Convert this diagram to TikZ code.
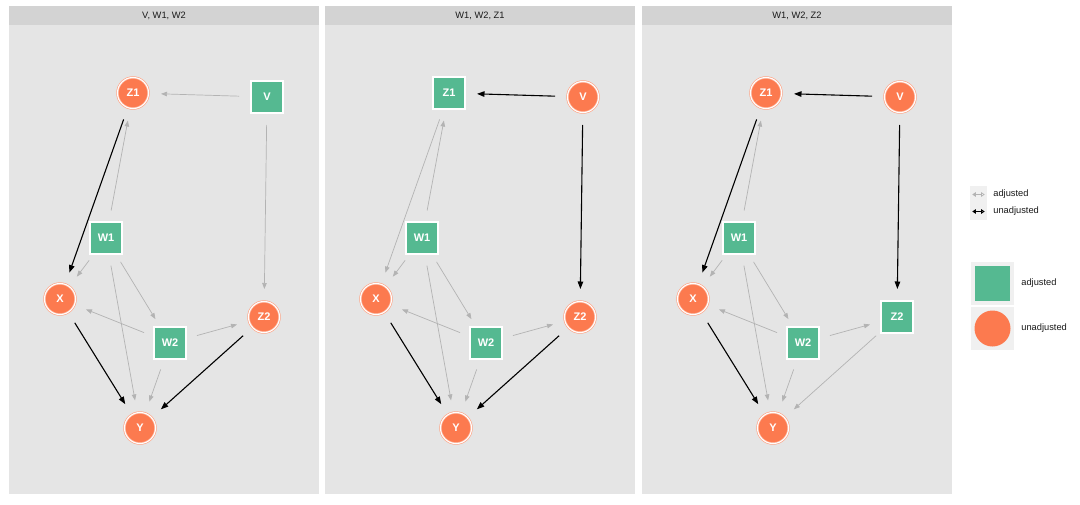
\documentclass[tikz,border=0pt]{standalone}
\usepackage{fontspec}
\setmainfont{Liberation Sans}
\usetikzlibrary{positioning, arrows.meta}

\definecolor{adjgreen}{HTML}{55B991}
\definecolor{unadjorange}{HTML}{FC7A4F}
\definecolor{panelgrey}{HTML}{E5E5E5}
\definecolor{stripgrey}{HTML}{D3D3D3}
\definecolor{edgegrey}{HTML}{B3B3B3}
\definecolor{keygrey}{HTML}{F0F0F0}

\begin{document}
\begin{tikzpicture}[
    % 1 unit = 1 pixel of the 1080x504 picture
    x=1pt, y=-1pt,
    adjusted/.style={
        rectangle,
        minimum size=32pt,
        inner sep=0pt,
        fill=adjgreen,
        draw=adjgreen!65!white,
        double=white,
        double distance=1.1pt,
        line width=0.7pt,
        text=white,
        font=\fontsize{11}{13}\selectfont\bfseries
    },
    unadjusted/.style={
        circle,
        minimum size=31pt,
        inner sep=0pt,
        fill=unadjorange,
        draw=unadjorange!65!white,
        double=white,
        double distance=1.1pt,
        line width=0.7pt,
        text=white,
        font=\fontsize{11}{13}\selectfont\bfseries
    },
    adj edge/.style={
        -{Triangle[length=6pt, width=4.5pt]}, % small grey head
        draw=edgegrey,
        line width=0.7pt,
        shorten >=28pt,
        shorten <=28pt
    },
    unadj edge/.style={
        -{Triangle[length=7.5pt, width=5.5pt]},
        draw=black,
        line width=1.1pt,
        shorten >=28pt,
        shorten <=28pt
    },
    strip text/.style={
        font=\fontsize{9.3}{11}\selectfont,
        text=black!90
    },
    legend text/.style={
        inner sep=0pt,
        font=\fontsize{9.3}{11}\selectfont,
        text=black!90
    }
]

    \useasboundingbox[fill=white] (0,0) rectangle (1080,504);

    % --- 1. Panel "V, W1, W2" ---
    \begin{scope}[xshift=9pt]
        \fill[panelgrey] (0,25) rectangle (310,494);
        \fill[stripgrey] (0,6) rectangle (310,25);
        \node[strip text] (aTitle) at (155,15.5) {V, W1, W2};

        \node[unadjusted] (aZ1) at (124,93)  {Z1};
        \node[adjusted]   (aV)  at (258,97)  {V};
        \node[adjusted]   (aW1) at (97,238)  {W1};
        \node[unadjusted] (aX)  at (51,299)  {X};
        \node[unadjusted] (aZ2) at (255,317) {Z2};
        \node[adjusted]   (aW2) at (161,343) {W2};
        \node[unadjusted] (aY)  at (131,428) {Y};

        \draw[adj edge] (aV.center) -- (aZ1.center);
        \draw[adj edge] (aV.center) -- (aZ2.center);
        \draw[adj edge] (aW1.center) -- (aZ1.center);
        \draw[adj edge] (aW1.center) -- (aX.center);
        \draw[adj edge] (aW1.center) -- (aY.center);
        \draw[adj edge] (aW1.center) -- (aW2.center);
        \draw[adj edge] (aW2.center) -- (aX.center);
        \draw[adj edge] (aW2.center) -- (aZ2.center);
        \draw[adj edge] (aW2.center) -- (aY.center);
        \draw[unadj edge] (aZ1.center) -- (aX.center);
        \draw[unadj edge] (aX.center) -- (aY.center);
        \draw[unadj edge] (aZ2.center) -- (aY.center);
    \end{scope}

    % --- 2. Panel "W1, W2, Z1" ---
    \begin{scope}[xshift=325pt]
        \fill[panelgrey] (0,25) rectangle (310,494);
        \fill[stripgrey] (0,6) rectangle (310,25);
        \node[strip text] (bTitle) at (155,15.5) {W1, W2, Z1};

        \node[adjusted]   (bZ1) at (124,93)  {Z1};
        \node[unadjusted] (bV)  at (258,97)  {V};
        \node[adjusted]   (bW1) at (97,238)  {W1};
        \node[unadjusted] (bX)  at (51,299)  {X};
        \node[unadjusted] (bZ2) at (255,317) {Z2};
        \node[adjusted]   (bW2) at (161,343) {W2};
        \node[unadjusted] (bY)  at (131,428) {Y};

        \draw[adj edge] (bZ1.center) -- (bX.center);
        \draw[adj edge] (bW1.center) -- (bZ1.center);
        \draw[adj edge] (bW1.center) -- (bX.center);
        \draw[adj edge] (bW1.center) -- (bY.center);
        \draw[adj edge] (bW1.center) -- (bW2.center);
        \draw[adj edge] (bW2.center) -- (bX.center);
        \draw[adj edge] (bW2.center) -- (bZ2.center);
        \draw[adj edge] (bW2.center) -- (bY.center);
        \draw[unadj edge] (bV.center) -- (bZ1.center);
        \draw[unadj edge] (bV.center) -- (bZ2.center);
        \draw[unadj edge] (bX.center) -- (bY.center);
        \draw[unadj edge] (bZ2.center) -- (bY.center);
    \end{scope}

    % --- 3. Panel "W1, W2, Z2" ---
    \begin{scope}[xshift=642pt]
        \fill[panelgrey] (0,25) rectangle (310,494);
        \fill[stripgrey] (0,6) rectangle (310,25);
        \node[strip text] (cTitle) at (155,15.5) {W1, W2, Z2};

        \node[unadjusted] (cZ1) at (124,93)  {Z1};
        \node[unadjusted] (cV)  at (258,97)  {V};
        \node[adjusted]   (cW1) at (97,238)  {W1};
        \node[unadjusted] (cX)  at (51,299)  {X};
        \node[adjusted]   (cZ2) at (255,317) {Z2};
        \node[adjusted]   (cW2) at (161,343) {W2};
        \node[unadjusted] (cY)  at (131,428) {Y};

        \draw[adj edge] (cZ2.center) -- (cY.center);
        \draw[adj edge] (cW1.center) -- (cZ1.center);
        \draw[adj edge] (cW1.center) -- (cX.center);
        \draw[adj edge] (cW1.center) -- (cY.center);
        \draw[adj edge] (cW1.center) -- (cW2.center);
        \draw[adj edge] (cW2.center) -- (cX.center);
        \draw[adj edge] (cW2.center) -- (cZ2.center);
        \draw[adj edge] (cW2.center) -- (cY.center);
        \draw[unadj edge] (cV.center) -- (cZ1.center);
        \draw[unadj edge] (cV.center) -- (cZ2.center);
        \draw[unadj edge] (cZ1.center) -- (cX.center);
        \draw[unadj edge] (cX.center) -- (cY.center);
    \end{scope}

    % --- 4. Legends ---
    \node[fill=keygrey, minimum size=17pt, inner sep=0pt] (keyAdjEdge) at (978.5,194.5) {};
    \node[fill=keygrey, minimum size=17pt, inner sep=0pt] (keyUnadjEdge) at (978.5,211.5) {};
    \draw[{Triangle[length=3.5pt, width=4.5pt]}-{Triangle[open, length=3.5pt, width=4.5pt]}, edgegrey, line width=0.6pt,
        shorten <=2.5pt, shorten >=2.5pt] (keyAdjEdge.west) -- (keyAdjEdge.east);
    \draw[{Triangle[length=3.5pt, width=4.5pt]}-{Triangle[open, length=3.5pt, width=4.5pt]}, black, line width=1pt,
        shorten <=2.5pt, shorten >=2.5pt] (keyUnadjEdge.west) -- (keyUnadjEdge.east);
    \node[legend text, right=6pt of keyAdjEdge] (txtAdjEdge) {adjusted};
    \node[legend text, right=6pt of keyUnadjEdge] (txtUnadjEdge) {unadjusted};

    \node[fill=keygrey, minimum size=43pt, inner sep=0pt] (keyAdj) at (992.5,283.5) {};
    \node[fill=keygrey, minimum size=43pt, inner sep=0pt] (keyUnadj) at (992.5,328.5) {};
    \node[fill=adjgreen, minimum size=35pt, inner sep=0pt] (keyAdjShape) at (keyAdj) {};
    \node[fill=unadjorange, circle, minimum size=36pt, inner sep=0pt] (keyUnadjShape) at (keyUnadj) {};
    \node[legend text, right=7pt of keyAdj] (txtAdj) {adjusted};
    \node[legend text, right=7pt of keyUnadj] (txtUnadj) {unadjusted};

\end{tikzpicture}
\end{document}
